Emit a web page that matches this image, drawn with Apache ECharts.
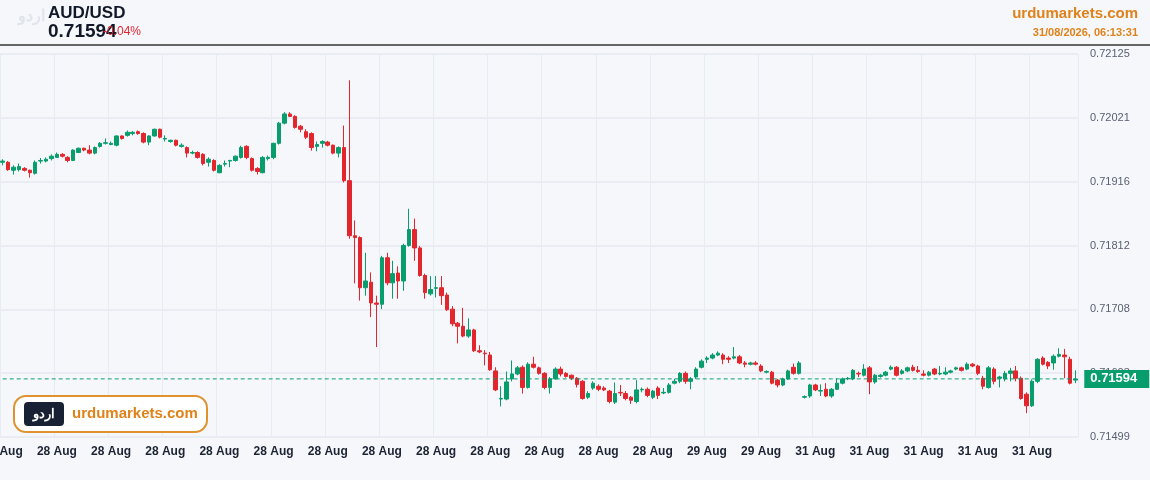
<!DOCTYPE html>
<html>
<head>
<meta charset="utf-8">
<script src="https://cdn.jsdelivr.net/npm/echarts@6/dist/echarts.min.js"></script>
<style>
  html,body{margin:0;padding:0;background:#f5f7fb;}
  #main{width:1150px;height:480px;}
</style>
</head>
<body>
<div id="main"></div>
<script>
// candles: [open, close, low, high]
var candles = [
  [0.71948,0.71950,0.71943,0.71953],[0.71948,0.71936,0.71934,0.71950],[0.71935,0.71940,0.71928,0.71943],[0.71936,0.71941,0.71933,0.71946],
  [0.71938,0.71935,0.71933,0.71940],[0.71935,0.71931,0.71923,0.71936],[0.71930,0.71948,0.71928,0.71951],[0.71950,0.71951,0.71946,0.71955],
  [0.71950,0.71953,0.71948,0.71956],[0.71954,0.71958,0.71951,0.71961],[0.71956,0.71961,0.71955,0.71964],[0.71961,0.71958,0.71956,0.71963],
  [0.71956,0.71951,0.71948,0.71958],[0.71951,0.71968,0.71950,0.71969],[0.71964,0.71971,0.71963,0.71972],[0.71971,0.71968,0.71966,0.71972],
  [0.71968,0.71963,0.71961,0.71976],[0.71963,0.71972,0.71961,0.71974],[0.71974,0.71979,0.71972,0.71981],[0.71979,0.71980,0.71977,0.71987],
  [0.71977,0.71979,0.71976,0.71982],[0.71976,0.71991,0.71974,0.71992],[0.71991,0.71987,0.71985,0.71992],[0.71992,0.71997,0.71990,0.72000],
  [0.71995,0.71997,0.71992,0.71999],[0.71998,0.71995,0.71993,0.72000],[0.71995,0.71981,0.71979,0.71997],[0.71981,0.71991,0.71976,0.71992],
  [0.71991,0.72002,0.71990,0.72003],[0.72002,0.71989,0.71987,0.72003],[0.71986,0.71987,0.71982,0.71992],[0.71982,0.71984,0.71980,0.71985],
  [0.71984,0.71976,0.71974,0.71985],[0.71974,0.71976,0.71972,0.71979],[0.71972,0.71963,0.71956,0.71974],[0.71963,0.71964,0.71961,0.71967],
  [0.71964,0.71956,0.71954,0.71966],[0.71961,0.71946,0.71943,0.71963],[0.71948,0.71953,0.71941,0.71956],[0.71951,0.71935,0.71933,0.71953],
  [0.71931,0.71943,0.71930,0.71945],[0.71945,0.71946,0.71941,0.71951],[0.71950,0.71951,0.71940,0.71952],[0.71951,0.71958,0.71949,0.71959],
  [0.71956,0.71972,0.71954,0.71975],[0.71974,0.71956,0.71953,0.71976],[0.71954,0.71935,0.71933,0.71956],[0.71938,0.71933,0.71928,0.71940],
  [0.71931,0.71956,0.71930,0.71958],[0.71954,0.71956,0.71951,0.71959],[0.71956,0.71979,0.71953,0.71980],[0.71979,0.72012,0.71977,0.72014],
  [0.72012,0.72027,0.72010,0.72030],[0.72027,0.72023,0.72022,0.72030],[0.72023,0.72005,0.72003,0.72025],[0.72007,0.72002,0.71997,0.72009],
  [0.71998,0.71989,0.71986,0.72002],[0.71995,0.71972,0.71967,0.71997],[0.71974,0.71977,0.71966,0.71982],[0.71979,0.71982,0.71972,0.71984],
  [0.71981,0.71976,0.71974,0.71983],[0.71976,0.71963,0.71961,0.71977],[0.71963,0.71972,0.71956,0.71974],[0.71972,0.71918,0.71915,0.72008],
  [0.71918,0.71828,0.71823,0.72082],[0.71828,0.71825,0.71750,0.71853],[0.71825,0.71743,0.71722,0.71827],[0.71743,0.71754,0.71730,0.71800],
  [0.71752,0.71718,0.71695,0.71768],[0.71718,0.71716,0.71646,0.71730],[0.71716,0.71792,0.71708,0.71795],[0.71792,0.71751,0.71747,0.71800],
  [0.71751,0.71766,0.71725,0.71787],[0.71767,0.71754,0.71725,0.71778],[0.71754,0.71812,0.71738,0.71815],[0.71812,0.71838,0.71810,0.71872],
  [0.71838,0.71808,0.71787,0.71856],[0.71808,0.71763,0.71761,0.71811],[0.71763,0.71735,0.71725,0.71766],[0.71733,0.71740,0.71730,0.71762],
  [0.71742,0.71743,0.71727,0.71762],[0.71743,0.71730,0.71715,0.71762],[0.71731,0.71707,0.71705,0.71735],[0.71708,0.71684,0.71680,0.71713],
  [0.71685,0.71680,0.71652,0.71687],[0.71680,0.71664,0.71662,0.71710],[0.71664,0.71674,0.71661,0.71693],[0.71674,0.71640,0.71638,0.71676],
  [0.71640,0.71638,0.71636,0.71649],[0.71636,0.71635,0.71616,0.71641],[0.71633,0.71609,0.71607,0.71638],[0.71607,0.71576,0.71574,0.71613],
  [0.71561,0.71562,0.71549,0.71582],[0.71561,0.71589,0.71559,0.71606],[0.71594,0.71602,0.71590,0.71624],[0.71602,0.71612,0.71600,0.71615],
  [0.71613,0.71580,0.71570,0.71616],[0.71580,0.71618,0.71578,0.71621],[0.71618,0.71613,0.71611,0.71630],[0.71612,0.71603,0.71601,0.71614],
  [0.71603,0.71580,0.71577,0.71605],[0.71580,0.71594,0.71570,0.71597],[0.71594,0.71610,0.71593,0.71613],[0.71610,0.71602,0.71598,0.71614],
  [0.71603,0.71598,0.71596,0.71605],[0.71600,0.71595,0.71592,0.71601],[0.71595,0.71585,0.71580,0.71597],[0.71590,0.71562,0.71560,0.71592],
  [0.71564,0.71570,0.71561,0.71574],[0.71579,0.71587,0.71576,0.71590],[0.71582,0.71577,0.71574,0.71585],[0.71579,0.71576,0.71574,0.71582],
  [0.71574,0.71557,0.71554,0.71576],[0.71556,0.71570,0.71553,0.71588],[0.71572,0.71571,0.71566,0.71584],[0.71570,0.71562,0.71559,0.71574],
  [0.71564,0.71559,0.71553,0.71566],[0.71557,0.71576,0.71554,0.71592],[0.71576,0.71577,0.71572,0.71580],[0.71577,0.71567,0.71564,0.71580],
  [0.71564,0.71574,0.71561,0.71576],[0.71579,0.71567,0.71561,0.71582],[0.71571,0.71572,0.71569,0.71579],[0.71572,0.71584,0.71570,0.71587],
  [0.71587,0.71590,0.71585,0.71594],[0.71590,0.71603,0.71587,0.71605],[0.71603,0.71590,0.71586,0.71606],[0.71590,0.71594,0.71577,0.71597],
  [0.71597,0.71610,0.71594,0.71613],[0.71613,0.71623,0.71611,0.71626],[0.71626,0.71628,0.71620,0.71631],[0.71628,0.71633,0.71626,0.71636],
  [0.71633,0.71636,0.71631,0.71639],[0.71633,0.71626,0.71618,0.71636],[0.71628,0.71626,0.71620,0.71631],[0.71628,0.71630,0.71626,0.71646],
  [0.71630,0.71620,0.71618,0.71633],[0.71620,0.71618,0.71613,0.71623],[0.71618,0.71620,0.71616,0.71622],[0.71620,0.71618,0.71616,0.71623],
  [0.71615,0.71607,0.71605,0.71618],[0.71605,0.71606,0.71603,0.71608],[0.71605,0.71587,0.71585,0.71607],[0.71592,0.71584,0.71580,0.71594],
  [0.71584,0.71594,0.71582,0.71596],[0.71594,0.71607,0.71592,0.71609],[0.71613,0.71603,0.71601,0.71619],[0.71603,0.71620,0.71601,0.71623],
  [0.71564,0.71565,0.71562,0.71567],[0.71566,0.71584,0.71563,0.71586],[0.71584,0.71576,0.71574,0.71586],[0.71574,0.71575,0.71566,0.71585],
  [0.71577,0.71566,0.71564,0.71587],[0.71566,0.71577,0.71563,0.71579],[0.71577,0.71587,0.71576,0.71595],[0.71587,0.71594,0.71585,0.71596],
  [0.71594,0.71595,0.71592,0.71597],[0.71594,0.71608,0.71592,0.71610],[0.71603,0.71602,0.71597,0.71606],[0.71600,0.71610,0.71598,0.71618],
  [0.71612,0.71589,0.71569,0.71615],[0.71589,0.71600,0.71586,0.71602],[0.71598,0.71600,0.71596,0.71602],[0.71600,0.71605,0.71598,0.71607],
  [0.71610,0.71613,0.71608,0.71616],[0.71613,0.71600,0.71598,0.71615],[0.71603,0.71607,0.71601,0.71610],[0.71607,0.71612,0.71605,0.71614],
  [0.71613,0.71608,0.71606,0.71617],[0.71608,0.71606,0.71604,0.71615],[0.71602,0.71600,0.71598,0.71608],[0.71600,0.71605,0.71598,0.71607],
  [0.71610,0.71602,0.71600,0.71612],[0.71602,0.71603,0.71600,0.71615],[0.71602,0.71605,0.71600,0.71613],[0.71605,0.71607,0.71603,0.71609],
  [0.71610,0.71612,0.71608,0.71614],[0.71612,0.71608,0.71606,0.71614],[0.71610,0.71618,0.71608,0.71621],[0.71618,0.71615,0.71613,0.71620],
  [0.71615,0.71603,0.71600,0.71617],[0.71595,0.71582,0.71577,0.71599],[0.71580,0.71612,0.71578,0.71615],[0.71610,0.71590,0.71585,0.71613],
  [0.71595,0.71597,0.71580,0.71599],[0.71594,0.71603,0.71590,0.71607],[0.71603,0.71607,0.71590,0.71612],[0.71607,0.71595,0.71590,0.71615],
  [0.71595,0.71562,0.71560,0.71598],[0.71569,0.71550,0.71538,0.71572],[0.71550,0.71590,0.71548,0.71593],[0.71590,0.71626,0.71587,0.71628],
  [0.71628,0.71618,0.71616,0.71631],[0.71621,0.71615,0.71610,0.71623],[0.71620,0.71631,0.71609,0.71634],[0.71631,0.71634,0.71629,0.71644],
  [0.71633,0.71630,0.71595,0.71643],[0.71626,0.71587,0.71585,0.71630],[0.71592,0.71594,0.71587,0.71608]
];
// one label per 10 candles
var tickLabels = ['28 Aug','28 Aug','28 Aug','28 Aug','28 Aug','28 Aug','28 Aug','28 Aug','28 Aug','28 Aug',
  '28 Aug','28 Aug','28 Aug','29 Aug','29 Aug','31 Aug','31 Aug','31 Aug','31 Aug','31 Aug'];
var yMin = 0.71499, yMax = 0.72125;
var lastPrice = 0.71594;

var cats = candles.map(function(c, i){ return String(i); });
var green = '#089d6c', red = '#e3262d';

var myChart = echarts.init(document.getElementById('main'));
var option = {
  backgroundColor: '#f5f7fb',
  animation: false,
  grid: { left: 0, right: 72, top: 54, bottom: 43, containLabel: false, outerBoundsMode: 'none' },
  xAxis: {
    type: 'category', data: cats, boundaryGap: true,
    axisLine: { show: false }, axisTick: { show: false },
    axisLabel: {
      interval: function(i){ return i % 10 === 0; },
      formatter: function(v, i){ return tickLabels[Math.floor(i / 10)]; },
      color: '#1c2333', fontWeight: 'bold', fontSize: 12, margin: 9, fontFamily: 'Liberation Sans'
    },
    splitLine: { show: true, interval: function(i){ return i % 10 === 0; }, lineStyle: { color: '#e6ecf3' } }
  },
  yAxis: {
    type: 'value', position: 'right', scale: true,
    min: yMin, max: yMax, interval: (yMax - yMin) / 6,
    axisLine: { show: false }, axisTick: { show: false },
    axisLabel: { formatter: function(v){ return v.toFixed(5); }, color: '#5a6070', fontSize: 11, margin: 12, fontFamily: 'Liberation Sans' },
    splitLine: { lineStyle: { color: '#e9edf3', width: 2 } }
  },
  series: [{
    type: 'candlestick', data: candles, barWidth: 4,
    itemStyle: { color: green, color0: red, borderColor: green, borderColor0: red, borderWidth: 1 }
  }, {
    // last-price reference line
    type: 'line', silent: true, symbol: 'none',
    data: cats.map(function(){ return lastPrice; }),
    lineStyle: { color: green, type: [4, 3], width: 1 },
    endLabel: {
      show: true, distance: 9, formatter: lastPrice.toFixed(5),
      backgroundColor: green, color: '#fff', fontWeight: 'bold', fontSize: 13,
      padding: [3, 12, 2, 6], fontFamily: 'Liberation Sans'
    }
  }],
  graphic: [
    { type: 'rect', z: 100, shape: { x: 0, y: 44, width: 1150, height: 2 }, style: { fill: '#666' } },
    { type: 'text', z: 100, left: 18, top: 8, style: { text: 'اردو', fill: '#e0e4ec', font: 'bold 16px "Noto Sans"' } },
    { type: 'text', z: 100, left: 48, top: 5, style: { text: 'AUD/USD', fill: '#111827', font: 'bold 17px "Liberation Sans"' } },
    { type: 'text', z: 100, left: 48, top: 22, style: { text: '0.71594', fill: '#111827', font: 'bold 19px "Liberation Sans"' } },
    { type: 'text', z: 101, left: 103, top: 26, style: { text: '-0.04%', fill: '#e3262d', font: '12px "Liberation Sans"' } },
    { type: 'text', z: 100, right: 12, top: 6, style: { text: 'urdumarkets.com', fill: '#e0821a', font: 'bold 15px "Liberation Sans"' } },
    { type: 'text', z: 100, right: 12, top: 27, style: { text: '31/08/2026, 06:13:31', fill: '#e0821a', font: 'bold 11px "Liberation Sans"' } },
    { type: 'rect', z: 100, shape: { x: 14, y: 396, width: 193, height: 36, r: 12 }, style: { fill: '#fff', stroke: '#e0922e', lineWidth: 2 } },
    { type: 'rect', z: 101, shape: { x: 24, y: 402, width: 40, height: 24, r: 4 }, style: { fill: '#182033' } },
    { type: 'text', z: 102, x: 44, y: 414, style: { text: 'اردو', fill: '#fff', font: 'bold 13px "Noto Sans"', align: 'center', verticalAlign: 'middle' } },
    { type: 'text', z: 102, x: 72, y: 414, style: { text: 'urdumarkets.com', fill: '#e0821a', font: 'bold 15px "Liberation Sans"', verticalAlign: 'middle' } }
  ]
};
myChart.setOption(option);
</script>
</body>
</html>
